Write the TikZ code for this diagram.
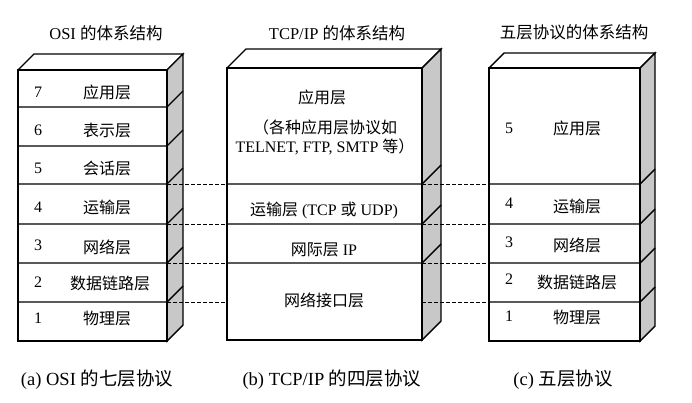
\documentclass[tikz,border=0pt]{standalone}
\usepackage{fontspec}
\setmainfont{Liberation Serif}
\newfontfamily\cjk{Noto Sans CJK SC}
\newcommand\zh[1]{{\cjk #1}}
\newcommand\drawstack[6]{%
  \fill[white] (#1,#3) -- (#1+#5,#3-#5) -- (#2+#5,#3-#5) -- (#2,#3) -- cycle;
  \draw[edge] (#1,#3) -- (#1+#5,#3-#5) -- (#2+#5,#3-#5) -- (#2,#3);
  \draw[edge, fill=sidegray] (#2,#3) -- (#2+#5,#3-#5) -- (#2+#5,#4-#5) -- (#2,#4) -- cycle;
  \draw[edge, fill=white] (#1,#3) rectangle (#2,#4);
  \foreach \yy in {#6} {\draw[edge] (#1,\yy) -- (#2,\yy) -- (#2+#5,\yy-#5);}
}
\definecolor{sidegray}{RGB}{200,200,200}
\begin{document}
\begin{tikzpicture}[x=1pt,y=-1pt,
  edge/.style={line width=1.4pt, line join=miter},
  txt/.style={font=\fontsize{16}{18}\selectfont, inner sep=0pt, anchor=center},
  ttl/.style={font=\fontsize{16.5}{19}\selectfont, inner sep=0pt, anchor=center},
  captxt/.style={font=\fontsize{18.5}{21}\selectfont, inner sep=0pt, anchor=center},
  link/.style={line width=0.9pt, dash pattern=on 3.5pt off 2.5pt}]
\useasboundingbox (0,0) rectangle (692,402);

% stacks
\drawstack{18}{167}{70}{341}{16}{107,146,184,224,263,302}
\drawstack{227}{422}{68}{340}{19}{184,224,263}
\drawstack{489}{640}{68}{341}{15}{184,224,263,302}

% titles
\node[ttl] (t1) at (106,33) {OSI \zh{的体系结构}};
\node[ttl] (t2) at (337,33) {TCP/IP \zh{的体系结构}};
\node[ttl] (t3) at (574,32) {\zh{五层协议的体系结构}};

% OSI layers
\node[txt] (o7n) at (38,92) {7}; \node[txt] (o7) at (107,92) {\zh{应用层}};
\node[txt] (o6n) at (38,130) {6}; \node[txt] (o6) at (107,130) {\zh{表示层}};
\node[txt] (o5n) at (38,168) {5}; \node[txt] (o5) at (107,168) {\zh{会话层}};
\node[txt] (o4n) at (38,207) {4}; \node[txt] (o4) at (107,207) {\zh{运输层}};
\node[txt] (o3n) at (38,245) {3}; \node[txt] (o3) at (107,247) {\zh{网络层}};
\node[txt] (o2n) at (38,282) {2}; \node[txt] (o2) at (110,283) {\zh{数据链路层}};
\node[txt] (o1n) at (38,318) {1}; \node[txt] (o1) at (107,318) {\zh{物理层}};

% TCP/IP layers
\node[txt] (ta) at (322,97) {\zh{应用层}};
\node[txt] (tb) at (325,127) {\zh{（各种应用层协议如}};
\node[txt] (tc) at (325,147) {TELNET, FTP, SMTP \zh{等）}};
\node[txt] (tt) at (324,210) {\zh{运输层} (TCP \zh{或} UDP)};
\node[txt] (ti) at (324,250) {\zh{网际层} IP};
\node[txt] (tn) at (324,300) {\zh{网络接口层}};

% five layers
\node[txt] (f5n) at (509,128) {5}; \node[txt] (f5) at (577,128) {\zh{应用层}};
\node[txt] (f4n) at (509,203) {4}; \node[txt] (f4) at (577,206) {\zh{运输层}};
\node[txt] (f3n) at (509,242) {3}; \node[txt] (f3) at (577,245) {\zh{网络层}};
\node[txt] (f2n) at (509,279) {2}; \node[txt] (f2) at (577,282) {\zh{数据链路层}};
\node[txt] (f1n) at (509,316) {1}; \node[txt] (f1) at (577,317) {\zh{物理层}};

% captions
\node[captxt] (c1) at (97,380) {(a) OSI \zh{的七层协议}};
\node[captxt] (c2) at (332,380) {(b) TCP/IP \zh{的四层协议}};
\node[captxt] (c3) at (563,380) {(c) \zh{五层协议}};

% dashed connectors
\foreach \yy/\k in {184/1,224/2,263/3,302/4} {
  \coordinate (oR\k) at (167,\yy);
  \coordinate (tL\k) at (227,\yy);
  \coordinate (tR\k) at (422,\yy);
  \coordinate (fL\k) at (489,\yy);
  \draw[link] (oR\k) -- (tL\k);
  \draw[link] (tR\k) -- (fL\k);
}
\end{tikzpicture}
\end{document}
